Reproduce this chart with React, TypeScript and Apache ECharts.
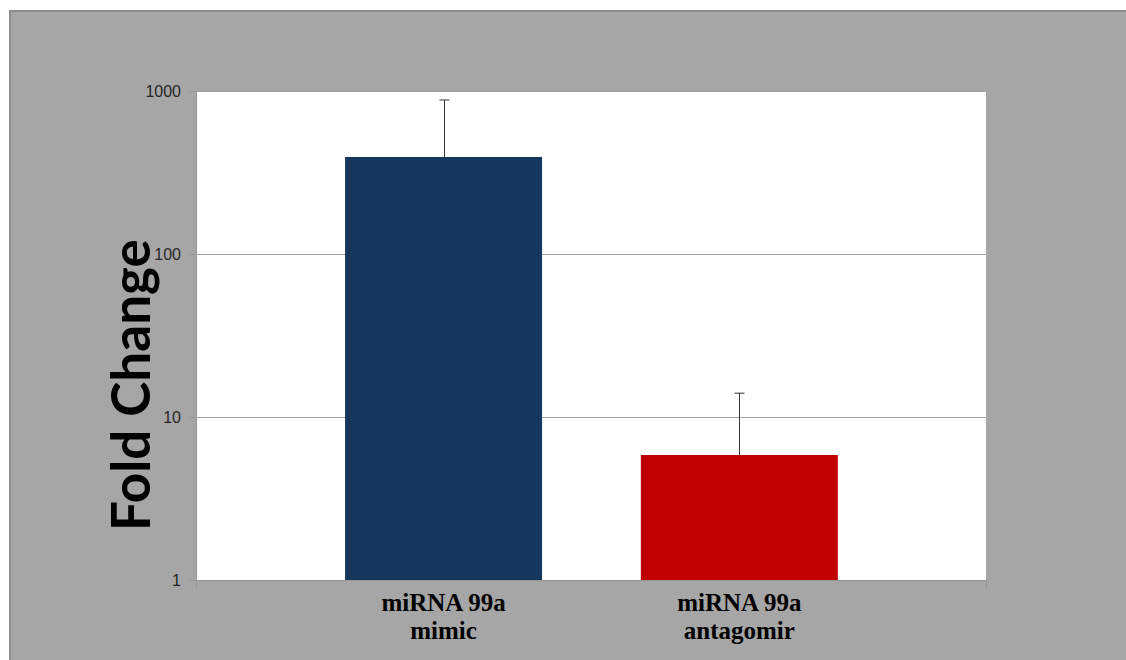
import React, { useEffect, useRef } from "react";
import * as echarts from "echarts";

const categories = ["miRNA 99a\nmimic", "miRNA 99a\nantagomir"];
const positions = [1, 2];
const means = [394, 5.85];
const errors = [487, 8.15];
const barColors = ["#17365d", "#c00000"];
const yTicks = [1, 10, 100, 1000];
const axisTitle = "Fold Change";

export default function App() {
  const ref = useRef<HTMLDivElement>(null);
  useEffect(() => {
    if (!ref.current) return;
    const chart = echarts.init(ref.current, null, { renderer: "svg" });
    const xMin = 0.163;
    const xMax = 2.834;
    chart.setOption({
      animation: false,
      grid: {
        left: 196,
        top: 91,
        width: 790,
        height: 489,
        show: true,
        backgroundColor: "#ffffff",
        borderWidth: 0,
      },
      xAxis: {
        type: "value",
        min: xMin,
        max: xMax,
        splitLine: { show: false },
        axisLine: { show: true, lineStyle: { color: "#969696", width: 1 } },
        axisTick: {
          show: true,
          length: 9,
          customValues: [xMin, xMax],
          lineStyle: { color: "#969696" },
        },
        axisLabel: {
          customValues: positions,
          formatter: (v: number) => {
            const i = positions.indexOf(Math.round(v));
            return i >= 0 ? categories[i] : "";
          },
          fontFamily: "Liberation Serif",
          fontWeight: "bold",
          fontSize: 25,
          lineHeight: 28,
          color: "#000",
          margin: 8,
        },
      },
      yAxis: {
        type: "log",
        logBase: 10,
        min: yTicks[0],
        max: yTicks[yTicks.length - 1],
        axisLine: { show: true, lineStyle: { color: "#969696", width: 1 } },
        axisTick: { show: true, length: 7, lineStyle: { color: "#969696" } },
        splitLine: { show: true, lineStyle: { color: "#a0a0a0", width: 1 } },
        axisLabel: {
          formatter: (v: number) => String(Math.round(v)),
          fontFamily: "Liberation Sans",
          fontSize: 16,
          color: "#262626",
          margin: 15,
        },
      },
      graphic: [
        {
          type: "text",
          x: 129,
          y: 385,
          rotation: Math.PI / 2,
          style: {
            text: axisTitle,
            font: "bold 53px Lato",
            fill: "#000",
            textAlign: "center",
            textVerticalAlign: "middle",
          },
        },
      ],
      series: [
        {
          type: "bar",
          barWidth: 197,
          data: positions.map((p, i) => ({
            value: [p, means[i]],
            itemStyle: { color: barColors[i] },
          })),
        },
        {
          type: "custom",
          data: positions.map((p, i) => [p, means[i], means[i] + errors[i]]),
          z: 5,
          renderItem: (params: any, api: any) => {
            const base = api.coord([api.value(0), api.value(1)]);
            const top = api.coord([api.value(0), api.value(2)]);
            const x = Math.round(base[0]) + 0.5;
            const style = { stroke: "#333333", lineWidth: 1 };
            return {
              type: "group",
              children: [
                { type: "line", shape: { x1: x, y1: base[1], x2: x, y2: top[1] }, style },
                { type: "line", shape: { x1: x - 5, y1: top[1], x2: x + 5, y2: top[1] }, style },
              ],
            };
          },
        },
      ],
    });
    return () => chart.dispose();
  }, []);

  return (
    <>
      <div
        style={{
          position: "fixed",
          left: 9,
          top: 10,
          right: 0,
          bottom: 0,
          background: "#a6a6a6",
          borderLeft: "2px solid #8c8c8c",
          borderTop: "2px solid #8c8c8c",
          boxSizing: "border-box",
        }}
      />
      <div
        ref={ref}
        style={{ position: "fixed", left: 0, top: 0, width: 1126, height: 660 }}
      />
    </>
  );
}
